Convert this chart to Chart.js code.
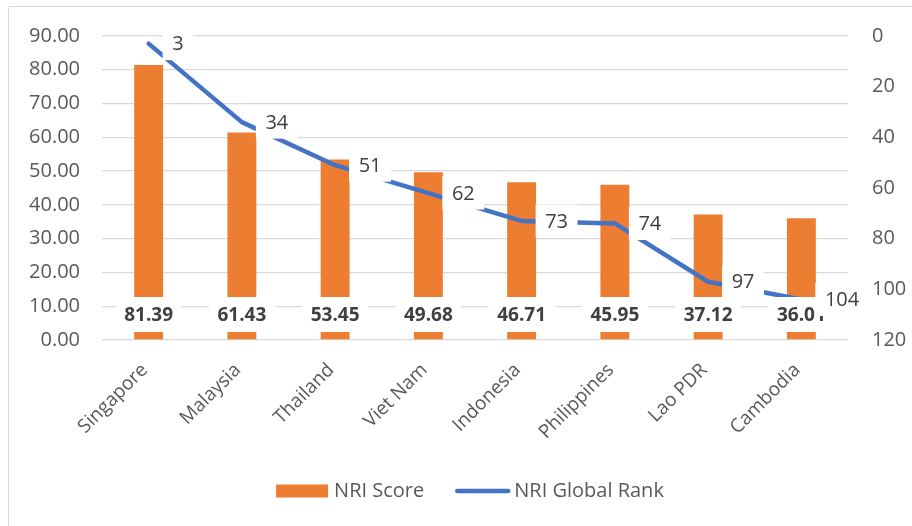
<!DOCTYPE html>
<html>
<head>
<meta charset="utf-8">
<script src="https://cdn.jsdelivr.net/npm/chart.js@4.4.0/dist/chart.umd.min.js"></script>
<style>
  html, body { margin: 0; padding: 0; background: #fff; }
</style>
</head>
<body>
<canvas id="myChart" width="912" height="526"></canvas>
<script>
const countries = ["Singapore", "Malaysia", "Thailand", "Viet Nam", "Indonesia", "Philippines", "Lao PDR", "Cambodia"];
const nriScore = [81.39, 61.43, 53.45, 49.68, 46.71, 45.95, 37.12, 36.01];
const nriRank = [3, 34, 51, 62, 73, 74, 97, 104];
const scoreTicks = [0, 10, 20, 30, 40, 50, 60, 70, 80, 90];
const rankTicks = [0, 20, 40, 60, 80, 100, 120];

const FONT = '"Open Sans", "DejaVu Sans", sans-serif';
const TEXT = "#595959";
const ORANGE = "#ED7D31";
const BLUE = "#4472C4";

// thin frame on the left and top like the copied office chart
const framePlugin = {
    id: "frame",
    beforeDraw(chart) {
        const ctx = chart.ctx;
        ctx.save();
        ctx.fillStyle = "#fff";
        ctx.fillRect(0, 0, chart.width, chart.height);
        ctx.strokeStyle = "#d9d9d9";
        ctx.lineWidth = 1;
        ctx.beginPath();
        ctx.moveTo(8.5, chart.height);
        ctx.lineTo(8.5, 6.5);
        ctx.lineTo(chart.width, 6.5);
        ctx.stroke();
        ctx.restore();
    }
};

// value labels with white boxes (bars first, then the rank line)
const labelPlugin = {
    id: "valueBoxes",
    afterDatasetsDraw(chart) {
        const ctx = chart.ctx;
        const base = chart.scales.y.getPixelForValue(0);
        ctx.save();
        ctx.textBaseline = "middle";

        ctx.font = "bold 19px " + FONT;
        ctx.textAlign = "center";
        chart.getDatasetMeta(0).data.forEach((bar, i) => {
            const txt = nriScore[i].toFixed(2);
            const w = ctx.measureText(txt).width + 17;
            const cy = base - 25.5;
            ctx.fillStyle = "#fff";
            ctx.fillRect(bar.x - w / 2, cy - 17.5, w, 35);
            ctx.fillStyle = "#404040";
            ctx.fillText(txt, bar.x, cy + 1);
        });

        ctx.font = "20px " + FONT;
        ctx.textAlign = "left";
        chart.getDatasetMeta(1).data.forEach((pt, i) => {
            const txt = String(nriRank[i]);
            const w = ctx.measureText(txt).width + 19;
            const bx = pt.x + 14;
            ctx.fillStyle = "#fff";
            ctx.fillRect(bx, pt.y - 16.5, w, 33);
            ctx.fillStyle = "#404040";
            ctx.fillText(txt, bx + 9.5, pt.y + 1);
        });
        ctx.restore();
    }
};

// legend drawn by hand so it sits where the original has it
const legendPlugin = {
    id: "bottomLegend",
    afterDraw(chart) {
        const ctx = chart.ctx;
        const y = 491;
        ctx.save();
        ctx.font = "20px " + FONT;
        ctx.textBaseline = "middle";
        ctx.textAlign = "left";
        const t1 = chart.data.datasets[0].label;
        const t2 = chart.data.datasets[1].label;
        const w1 = ctx.measureText(t1).width;
        const w2 = ctx.measureText(t2).width;
        const total = 52 + 6 + w1 + 31 + 55 + 4 + w2;
        let x = 470 - total / 2;
        ctx.fillStyle = ORANGE;
        ctx.fillRect(x, y - 6.5, 52, 13);
        x += 58;
        ctx.fillStyle = TEXT;
        ctx.fillText(t1, x, y);
        x += w1 + 31;
        ctx.strokeStyle = BLUE;
        ctx.lineWidth = 4.5;
        ctx.lineCap = "round";
        ctx.beginPath();
        ctx.moveTo(x + 2, y);
        ctx.lineTo(x + 53, y);
        ctx.stroke();
        x += 59;
        ctx.fillText(t2, x, y);
        ctx.restore();
    }
};

const ctx = document.getElementById("myChart");
new Chart(ctx, {
    data: {
        labels: countries,
        datasets: [
            {
                type: "bar",
                label: "NRI Score",
                data: nriScore,
                yAxisID: "y",
                backgroundColor: ORANGE,
                barPercentage: 0.31,
                categoryPercentage: 1,
                order: 2
            },
            {
                type: "line",
                label: "NRI Global Rank",
                data: nriRank,
                yAxisID: "y1",
                borderColor: BLUE,
                backgroundColor: BLUE,
                borderWidth: 4.5,
                borderJoinStyle: "round",
                borderCapStyle: "round",
                tension: 0,
                pointRadius: 0,
                order: 1
            }
        ]
    },
    options: {
        responsive: false,
        devicePixelRatio: 1,
        animation: false,
        layout: { padding: { top: 36, bottom: 86, left: 0, right: 0 } },
        plugins: {
            legend: { display: false },
            tooltip: { enabled: false }
        },
        scales: {
            x: {
                grid: { display: false },
                border: { display: false },
                ticks: {
                    color: TEXT,
                    font: { family: FONT, size: 19 },
                    minRotation: 45,
                    maxRotation: 45,
                    padding: 11,
                    labelOffset: -4
                },
                afterFit(scale) { scale.height = 100; }
            },
            y: {
                position: "left",
                min: 0,
                max: 90,
                border: { display: false },
                grid: { color: "#d9d9d9", lineWidth: 1.3, drawTicks: false },
                ticks: {
                    color: TEXT,
                    font: { family: FONT, size: 20 },
                    padding: 22,
                    callback: (v) => Number(v).toFixed(2)
                },
                afterBuildTicks(scale) { scale.ticks = scoreTicks.map((v) => ({ value: v })); },
                afterFit(scale) { scale.width = 102; }
            },
            y1: {
                position: "right",
                reverse: true,
                min: 0,
                max: 120,
                border: { display: false },
                grid: { display: false, drawTicks: false },
                ticks: {
                    color: TEXT,
                    font: { family: FONT, size: 20 },
                    padding: 24
                },
                afterBuildTicks(scale) { scale.ticks = rankTicks.map((v) => ({ value: v })); },
                afterFit(scale) { scale.width = 64; }
            }
        }
    },
    plugins: [framePlugin, labelPlugin, legendPlugin]
});
</script>
</body>
</html>
